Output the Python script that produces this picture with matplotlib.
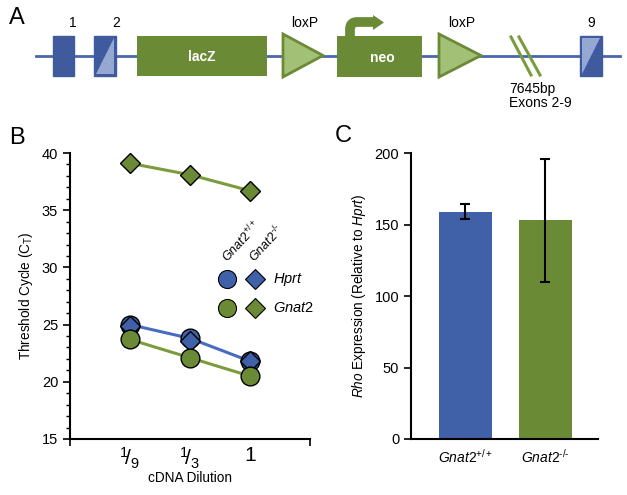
import matplotlib
matplotlib.use("Agg")
import matplotlib.pyplot as plt
import matplotlib.patches as mpatches
from matplotlib.path import Path
from matplotlib.ticker import MultipleLocator, FixedLocator

plt.rcParams['font.family'] = ['Liberation Sans', 'DejaVu Sans']
plt.rcParams['mathtext.fontset'] = 'custom'
plt.rcParams['mathtext.rm'] = 'Liberation Sans'
plt.rcParams['mathtext.it'] = 'Liberation Sans:italic'
plt.rcParams['mathtext.bf'] = 'Liberation Sans:bold'

# ---------------- data ----------------
dilution_labels = [r'$^1\!/_9$', r'$^1\!/_3$', '1']
dilution_pos = [1, 2, 3]
hprt_wt = [25.0, 23.8, 21.8]      # circles, blue
hprt_ko = [24.9, 23.6, 21.8]      # diamonds, blue
gnat2_wt = [23.7, 22.1, 20.5]     # circles, green
gnat2_ko = [39.1, 38.1, 36.7]     # diamonds, green

HY = '\u2010'
genotypes = [r'$\mathit{Gnat2}^{+/+}$', r'$\mathit{Gnat2}^{' + HY + '/' + HY + '}$']
rho_expr = [159, 153]
rho_err_low = [5, 43]
rho_err_high = [5, 43]

BLUE = '#4060a8'
BLUE_LINE = '#4a6cc0'
GREEN = '#6b8a35'
GREEN_LINE = '#7b9c3c'
DARKBLUE = '#3f5b9e'
LIGHTBLUE = '#95a7d3'
LIGHTGREEN = '#a3c077'

W, H = 627, 495
fig = plt.figure(figsize=(W / 100, H / 100), dpi=100)

# overlay axes in pixel coordinates for schematic & panel letters
ov = fig.add_axes([0, 0, 1, 1])
ov.set_xlim(0, W)
ov.set_ylim(H, 0)
ov.axis('off')

# ---------------- Panel A schematic ----------------
ov.plot([36, 620], [55.5, 55.5], color='#4a66b0', lw=2, zorder=1)

def exon(x0, x1, light=None):
    ov.add_patch(mpatches.Rectangle((x0, 36), x1 - x0, 40, facecolor=DARKBLUE,
                                    edgecolor=DARKBLUE, lw=1, zorder=2))
    if light == 'lr':
        pts = [(x1 - 2, 38), (x1 - 2, 74), (x0 + 2, 74)]
    elif light == 'ul':
        pts = [(x0 + 2, 38), (x1 - 2, 38), (x0 + 2, 74)]
    else:
        return
    ov.add_patch(mpatches.Polygon(pts, closed=True, facecolor=LIGHTBLUE,
                                  edgecolor='none', zorder=3))

exon(53, 74)
exon(94, 116, 'lr')
exon(580, 602, 'ul')

ov.add_patch(mpatches.Rectangle((137, 36), 130, 40, facecolor=GREEN,
                                edgecolor='none', zorder=2))
ov.text(202, 57, 'lacZ', color='white', fontsize=10, fontweight='bold',
        ha='center', va='center', zorder=4)
ov.add_patch(mpatches.Rectangle((337, 36), 85, 41, facecolor=GREEN,
                                edgecolor='none', zorder=2))
ov.text(382, 58, 'neo', color='white', fontsize=10, fontweight='bold',
        ha='center', va='center', zorder=4)

for x0, x1 in [(283, 323), (439, 481)]:
    ov.add_patch(mpatches.Polygon([(x0, 34), (x0, 77), (x1, 55.5)], closed=True,
                                  facecolor=LIGHTGREEN, edgecolor=GREEN, lw=2,
                                  zorder=2))
    ov.text((x0 + x1) / 2 + 2, 23, 'loxP', fontsize=10, ha='center', va='center')

# neo promoter arrow
arrow_path = Path([(350, 37), (350, 29), (350, 22), (357, 22), (374, 22)],
                  [Path.MOVETO, Path.LINETO, Path.CURVE3, Path.CURVE3, Path.LINETO])
ov.add_patch(mpatches.PathPatch(arrow_path, facecolor='none', edgecolor=GREEN,
                                lw=7, capstyle='butt', joinstyle='round', zorder=2))
ov.add_patch(mpatches.Polygon([(373, 15), (384, 22.5), (373, 30)], closed=True,
                              facecolor=GREEN, edgecolor='none', zorder=2))

# break slashes
ov.plot([511, 531], [37, 75], color=GREEN_LINE, lw=2.2, zorder=3)
ov.plot([519, 540], [37, 75], color=GREEN_LINE, lw=2.2, zorder=3)
ov.text(509, 89, '7645bp', fontsize=10, ha='left', va='center')
ov.text(509, 103, 'Exons 2-9', fontsize=10, ha='left', va='center')

ov.text(73, 23, '1', fontsize=10, ha='center', va='center')
ov.text(116, 23, '2', fontsize=10, ha='center', va='center')
ov.text(591, 23, '9', fontsize=10, ha='center', va='center')

ov.text(17, 18, 'A', fontsize=17, ha='center', va='center')
ov.text(17, 138, 'B', fontsize=17, ha='center', va='center')
ov.text(343, 136, 'C', fontsize=17, ha='center', va='center')

# ---------------- Panel B ----------------
axB = fig.add_axes([70 / W, 1 - 439 / H, 240 / W, 286 / H])
axB.patch.set_alpha(0)
axB.plot(dilution_pos, gnat2_ko, color=GREEN_LINE, lw=2.2, zorder=2)
axB.plot(dilution_pos, gnat2_ko, 'D', ms=10.5, mfc=GREEN, mec='black', mew=1, zorder=3)
axB.plot(dilution_pos, hprt_wt, color=BLUE_LINE, lw=2.2, zorder=2)
axB.plot(dilution_pos, hprt_wt, 'o', ms=13.5, mfc=BLUE, mec='black', mew=1, zorder=3)
axB.plot(dilution_pos, hprt_ko, 'D', ms=10.5, mfc=BLUE, mec='black', mew=1, zorder=4)
axB.plot(dilution_pos, gnat2_wt, color=GREEN_LINE, lw=2.2, zorder=2)
axB.plot(dilution_pos, gnat2_wt, 'o', ms=13.5, mfc=GREEN, mec='black', mew=1, zorder=5)

axB.set_xlim(0, 4)
axB.set_ylim(15, 40)
axB.yaxis.set_major_locator(MultipleLocator(5))
axB.yaxis.set_minor_locator(MultipleLocator(1))
axB.set_xticks(dilution_pos)
axB.set_xticklabels(dilution_labels, fontsize=15)
axB.xaxis.set_minor_locator(FixedLocator([0, 4]))
axB.tick_params(axis='x', which='major', length=0, pad=5)
axB.tick_params(axis='x', which='minor', length=5, width=1.2, direction='out')
axB.tick_params(axis='y', which='major', length=5, width=1.2, labelsize=10.5)
axB.tick_params(axis='y', which='minor', length=3, width=1)
for s in ['top', 'right']:
    axB.spines[s].set_visible(False)
for s in ['left', 'bottom']:
    axB.spines[s].set_linewidth(1.5)
axB.set_ylabel(r'Threshold Cycle (C$_\mathrm{T}$)', fontsize=9.8, labelpad=5)
axB.set_xlabel('cDNA Dilution', fontsize=9.8, labelpad=0)

# legend-like key
lx = [2.62, 3.08]
axB.plot(lx[0], 28.98, 'o', ms=13, mfc=BLUE, mec='black', mew=0.8, clip_on=False)
axB.plot(lx[1], 28.98, 'D', ms=10, mfc=BLUE, mec='black', mew=0.8, clip_on=False)
axB.plot(lx[0], 26.45, 'o', ms=13, mfc=GREEN, mec='black', mew=0.8, clip_on=False)
axB.plot(lx[1], 26.45, 'D', ms=10, mfc=GREEN, mec='black', mew=0.8, clip_on=False)
axB.text(3.38, 28.98, r'$\mathit{Hprt}$', fontsize=10.5, ha='left', va='center')
axB.text(3.38, 26.45, r'$\mathit{Gnat2}$', fontsize=10.5, ha='left', va='center')
axB.text(lx[0] + 0.02, 30.35, r'$\mathit{Gnat2}^{+/+}$', fontsize=9, rotation=47,
         rotation_mode='anchor', ha='left', va='baseline')
axB.text(lx[1] - 0.0, 30.35, r'$\mathit{Gnat2}^{' + HY + '/' + HY + '}$', fontsize=9,
         rotation=47, rotation_mode='anchor', ha='left', va='baseline')

# ---------------- Panel C ----------------
axC = fig.add_axes([411 / W, 1 - 439 / H, 187 / W, 286 / H])
axC.patch.set_alpha(0)
xpos = [0, 1]
axC.bar(xpos, rho_expr, width=0.66, color=[BLUE, GREEN], zorder=2)
axC.errorbar(xpos, rho_expr, yerr=[rho_err_low, rho_err_high], fmt='none',
             ecolor='black', elinewidth=1.5, capsize=3.5, capthick=1.5, zorder=3)
axC.set_xlim(-0.68, 1.66)
axC.set_ylim(0, 200)
axC.yaxis.set_major_locator(MultipleLocator(50))
axC.set_xticks(xpos)
axC.set_xticklabels(genotypes, fontsize=10)
axC.tick_params(axis='x', length=0, pad=6)
axC.tick_params(axis='y', length=5, width=1.2, labelsize=10.5)
for s in ['top', 'right']:
    axC.spines[s].set_visible(False)
for s in ['left', 'bottom']:
    axC.spines[s].set_linewidth(1.5)
axC.set_ylabel(r'$\mathit{Rho}$ Expression (Relative to $\mathit{Hprt}$)', fontsize=9.8,
               labelpad=5)

fig.savefig('out.png', dpi=100)
